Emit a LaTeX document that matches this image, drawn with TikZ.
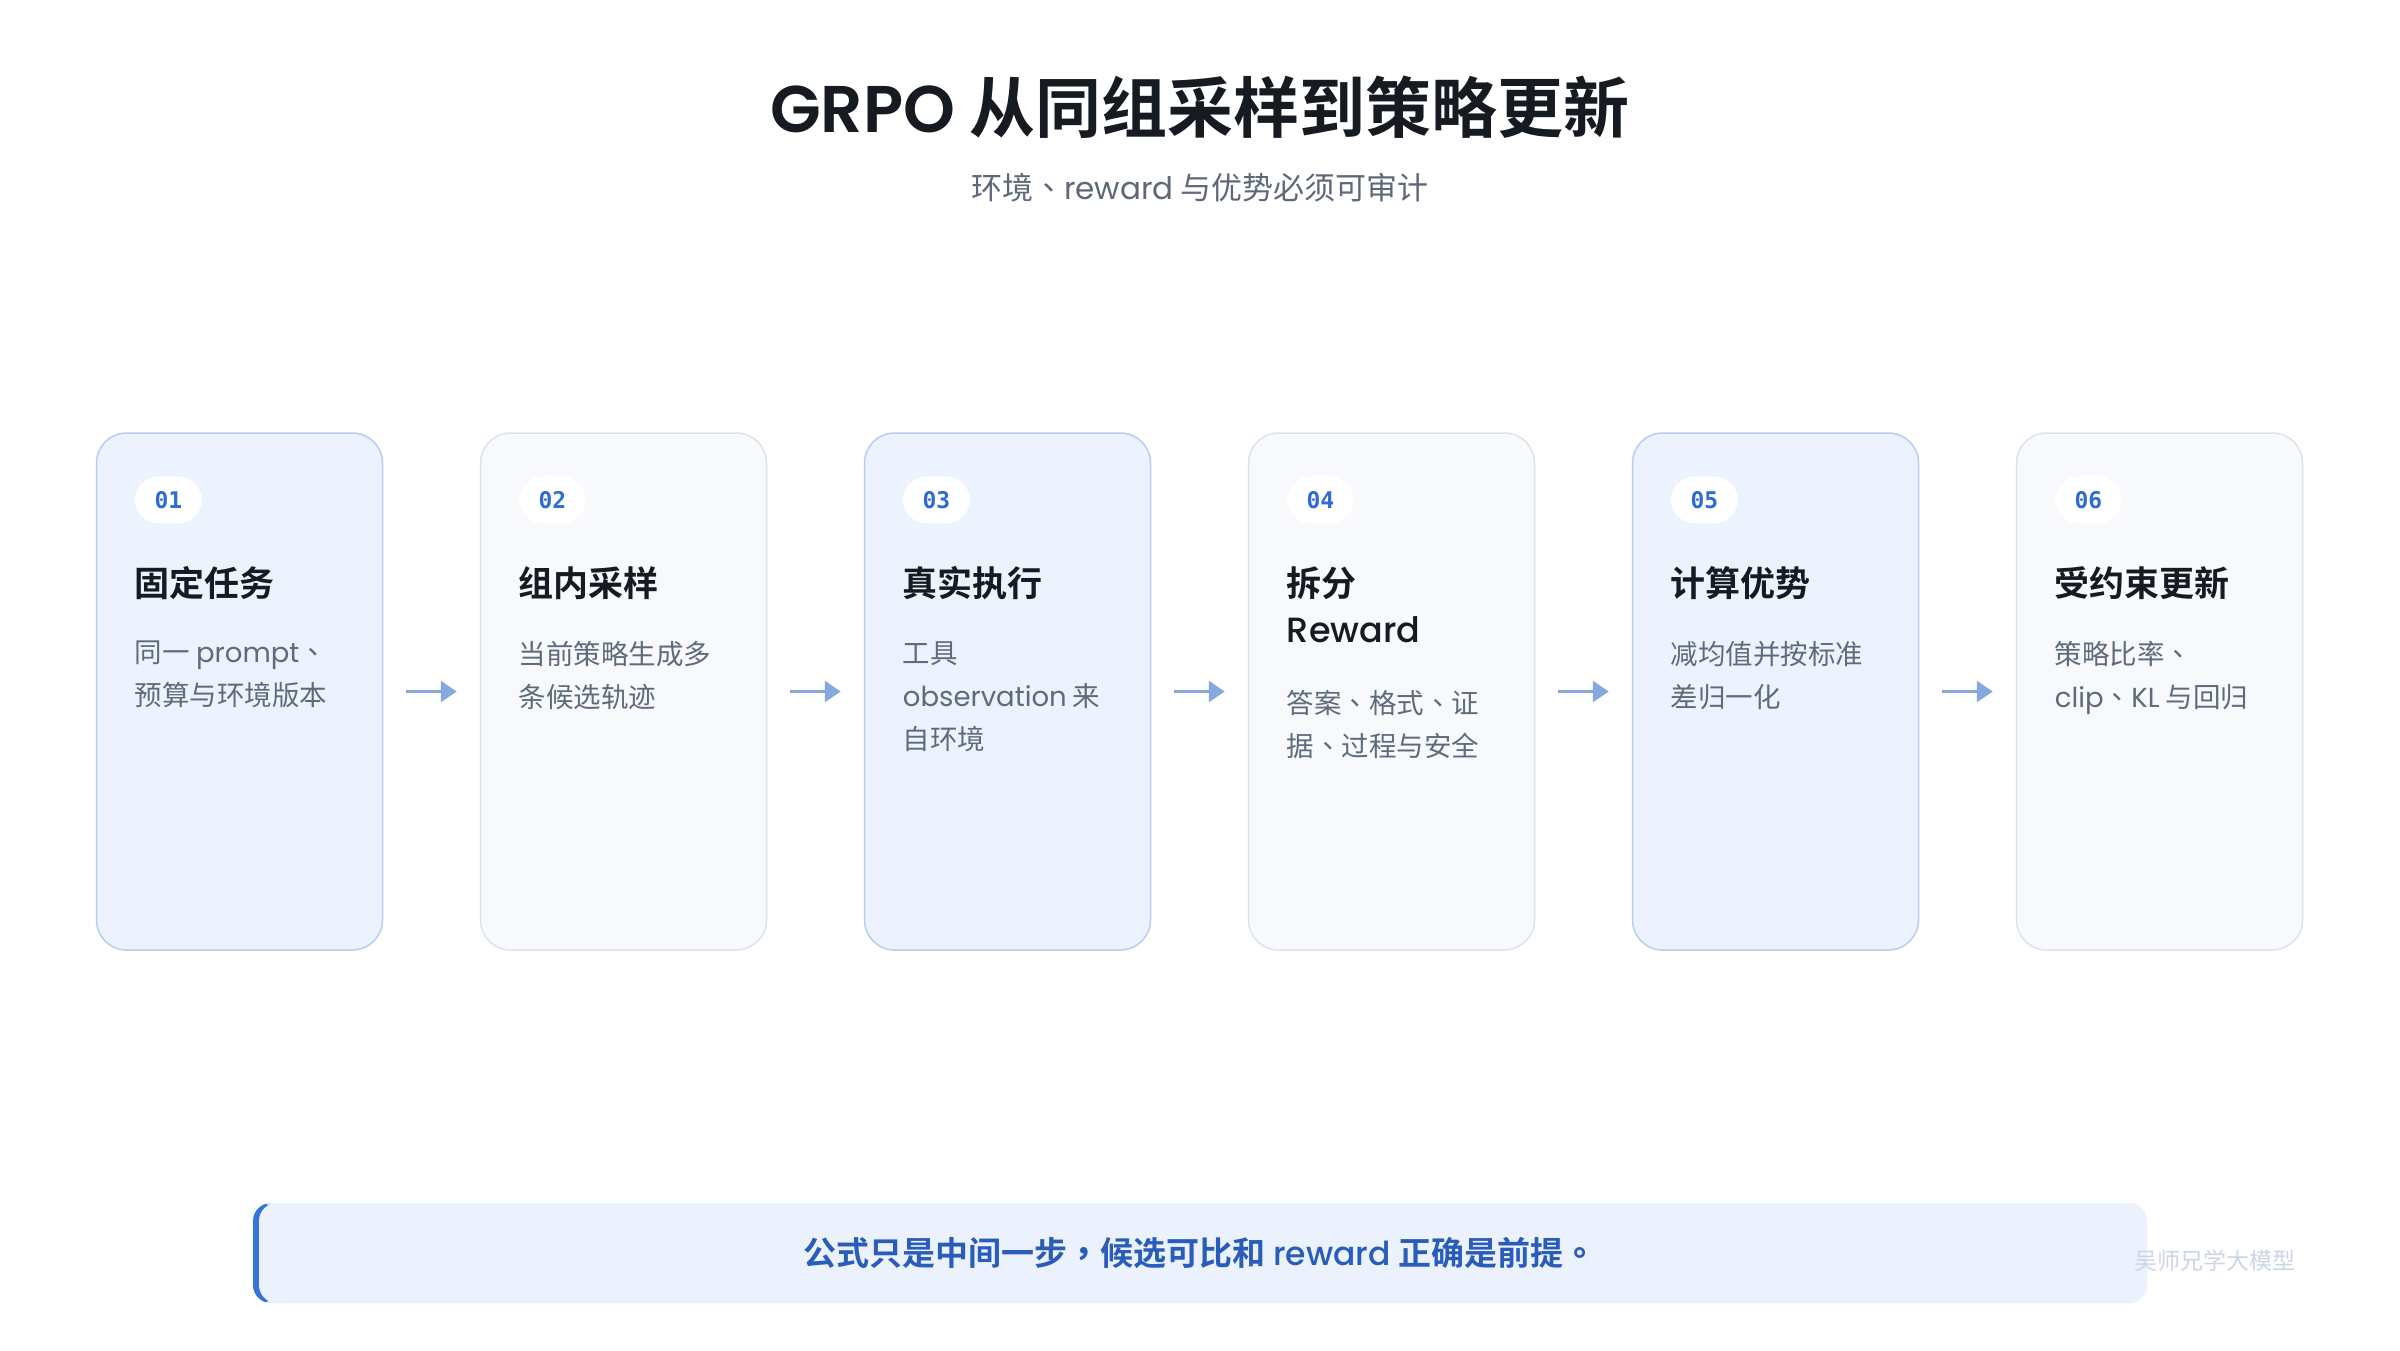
\documentclass[tikz,border=0pt]{standalone}
\usepackage{fontspec}
\setmainfont{Noto Sans CJK SC}[BoldFont = {Noto Sans CJK SC Bold}]
\newfontfamily\tcfont{Noto Sans CJK TC}
\newfontfamily\enfont{Poppins}
\IfFontExistsTF{Poppins Medium}
	{\newfontfamily\enmid{Poppins Medium}}{\newfontfamily\enmid{Poppins}}
\IfFontExistsTF{Poppins SemiBold}
	{\newfontfamily\ensemi{Poppins SemiBold}}{\newfontfamily\ensemi{Poppins}}
\newfontfamily\numfont{DejaVu Sans Mono}
\usetikzlibrary{positioning, arrows.meta}

\newcommand{\en}[1]{{\enfont\mdseries #1}}
\newcommand{\enm}[1]{{\enmid\mdseries #1}}
\newcommand{\ens}[1]{{\ensemi\mdseries #1}}
% centred punctuation
\newcommand{\dun}{{\tcfont 、}}
\newcommand{\dou}{{\tcfont ，}}
\newcommand{\ju}{{\tcfont 。}}

\definecolor{ink}{HTML}{161B22}
\definecolor{subgrey}{HTML}{5E6878}
\definecolor{descgrey}{HTML}{5F6B7B}
\definecolor{cardblue}{HTML}{EDF3FE}
\definecolor{edgeblue}{HTML}{B7CDF2}
\definecolor{cardgrey}{HTML}{F7F9FC}
\definecolor{edgegrey}{HTML}{DCE3ED}
\definecolor{numblue}{HTML}{2E6BD6}
\definecolor{arrowblue}{HTML}{86A7DF}
\definecolor{notebg}{HTML}{EBF2FE}
\definecolor{accent}{HTML}{3574DD}
\definecolor{notetext}{HTML}{2A5DB9}
\definecolor{markgrey}{HTML}{CBD5EA}

\tikzstyle{card} = [rectangle, rounded corners = 30pt, minimum width = 286pt,
	minimum height = 517pt, inner sep = 0pt, line width = 1.5pt]
\tikzstyle{cardA} = [card, fill = cardblue, draw = edgeblue]
\tikzstyle{cardB} = [card, fill = cardgrey, draw = edgegrey]
\tikzstyle{badge} = [rectangle, rounded corners = 24pt, fill = white,
	minimum width = 67pt, minimum height = 47pt, inner sep = 0pt, text = numblue,
	font = \numfont\bfseries\fontsize{23}{23}\selectfont]
\tikzstyle{head} = [inner sep = 0pt, align = left, text = ink,
	font = \bfseries\fontsize{35}{46}\selectfont]
\tikzstyle{desc} = [inner sep = 0pt, align = left, text = descgrey,
	font = \fontsize{27.5}{43}\selectfont]
\tikzstyle{arrow} = [line width = 2.5pt, draw = arrowblue,
	-{Triangle[length = 16pt, width = 21pt]}, shorten < = 23pt, shorten > = 23pt]
\tikzstyle{note} = [rectangle, rounded corners = 18pt, fill = notebg,
	minimum width = 1894pt, minimum height = 100pt, text = notetext,
	font = \bfseries\fontsize{33}{33}\selectfont,
	path picture = {
		\fill [accent] (path picture bounding box.north west)
			rectangle ([xshift = 25pt] path picture bounding box.south west);
		\fill [notebg, rounded corners = 18pt]
			([xshift = 6pt] path picture bounding box.north west)
			rectangle ([xshift = 40pt] path picture bounding box.south east);}]

\begin{document}
\begin{tikzpicture}[x = 1pt, y = -1pt, node distance = 384pt]

\useasboundingbox [fill = white] (0,0) rectangle (2400,1350);

\node (title) at (1200,107) [text = ink, font = \bfseries\fontsize{66}{66}\selectfont]
	{\ens{GRPO} 从同组采样到策略更新};
\node (subtitle) at (1200,188) [text = subgrey, font = \fontsize{31}{31}\selectfont]
	{环境\dun\en{reward} 与优势必须可审计};

\node (S1) [cardA] at (239.5,691.5) {};
\node (S2) [cardB, right of = S1] {};
\node (S3) [cardA, right of = S2] {};
\node (S4) [cardB, right of = S3] {};
\node (S5) [cardA, right of = S4] {};
\node (S6) [cardB, right of = S5] {};

\node (S1N) [badge, below right = 44pt and 39pt of S1.north west] {01};
\node (S1T) [head, below right = 134pt and 39pt of S1.north west] {固定任务};
\node (S1D) [desc, below right = 41pt and 0pt of S1T.south west]
	{同一 \en{prompt}\dun\\预算与环境版本};

\node (S2N) [badge, below right = 44pt and 39pt of S2.north west] {02};
\node (S2T) [head, below right = 134pt and 39pt of S2.north west] {组内采样};
\node (S2D) [desc, below right = 41pt and 0pt of S2T.south west]
	{当前策略生成多\\条候选轨迹};

\node (S3N) [badge, below right = 44pt and 39pt of S3.north west] {03};
\node (S3T) [head, below right = 134pt and 39pt of S3.north west] {真实执行};
\node (S3D) [desc, below right = 41pt and 0pt of S3T.south west]
	{工具\\\en{observation} 来\\自环境};

\node (S4N) [badge, below right = 44pt and 39pt of S4.north west] {04};
\node (S4T) [head, below right = 134pt and 39pt of S4.north west] {拆分\\\enm{Reward}};
\node (S4D) [desc, below right = 47pt and 0pt of S4T.south west]
	{答案\dun 格式\dun 证\\据\dun 过程与安全};

\node (S5N) [badge, below right = 44pt and 39pt of S5.north west] {05};
\node (S5T) [head, below right = 134pt and 39pt of S5.north west] {计算优势};
\node (S5D) [desc, below right = 41pt and 0pt of S5T.south west]
	{减均值并按标准\\差归一化};

\node (S6N) [badge, below right = 44pt and 39pt of S6.north west] {06};
\node (S6T) [head, below right = 134pt and 39pt of S6.north west] {受约束更新};
\node (S6D) [desc, below right = 41pt and 0pt of S6T.south west]
	{策略比率\dun\\\en{clip}\dun\en{KL} 与回归};

\draw [arrow] (S1) -- (S2);
\draw [arrow] (S2) -- (S3);
\draw [arrow] (S3) -- (S4);
\draw [arrow] (S4) -- (S5);
\draw [arrow] (S5) -- (S6);

\node (note) [note] at (1200,1253)
	{公式只是中间一步\dou 候选可比和 \enm{reward} 正确是前提\ju};
\node (mark) at (2215,1261) [text = markgrey, font = \fontsize{23}{23}\selectfont]
	{吴师兄学大模型};

\end{tikzpicture}
\end{document}
